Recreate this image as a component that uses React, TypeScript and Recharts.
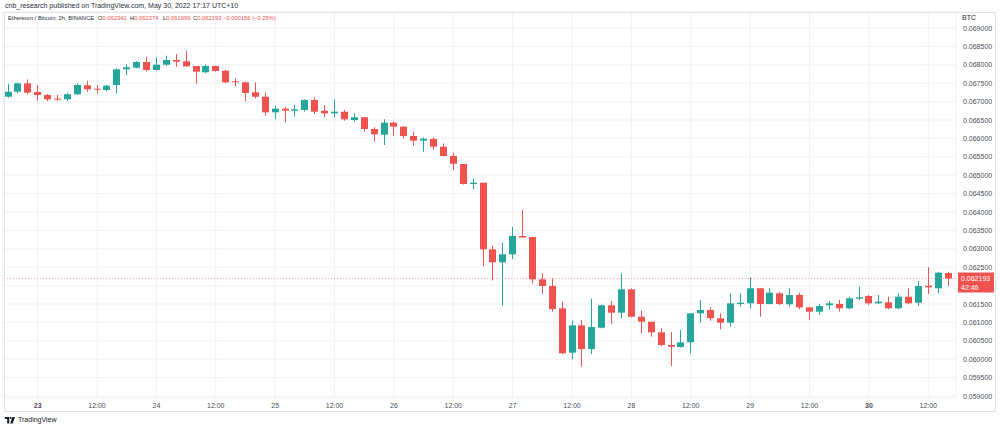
import { ComposedChart, Bar, XAxis, YAxis, CartesianGrid, ReferenceLine } from 'recharts'

// ETH/BTC 2h candles, 22 May 18:00 -> 30 May 16:00
const firstDay = 22
const firstHour = 18

const opens = [
    0.067133, 0.067269, 0.067497, 0.067261, 0.067179, 0.067079, 0.067063, 0.067199, 0.067443, 0.067351, 0.067315, 0.067451,
    0.067878, 0.067921, 0.068076, 0.067859, 0.068003, 0.068131, 0.068095, 0.067968, 0.067796, 0.067968, 0.06784, 0.067552,
    0.067525, 0.067253, 0.067133, 0.066709, 0.066807, 0.066753, 0.066772, 0.067044, 0.066753, 0.066682, 0.066726, 0.0665,
    0.066574, 0.066256, 0.066101, 0.066427, 0.066318, 0.066065, 0.065938, 0.065984, 0.065775, 0.065522, 0.065304, 0.064761,
    0.064796, 0.062986, 0.062633, 0.06285, 0.063348, 0.063321, 0.062171, 0.061989, 0.061383, 0.060177, 0.060921, 0.060277,
    0.060856, 0.061465, 0.061264, 0.061899, 0.061155, 0.061019, 0.060731, 0.060386, 0.060332, 0.060459, 0.061247, 0.061337,
    0.061112, 0.060992, 0.0615, 0.061519, 0.061927, 0.0615, 0.061791, 0.061492, 0.061745, 0.06141, 0.061291, 0.061465,
    0.0615, 0.061383, 0.061644, 0.061717, 0.061519, 0.061546, 0.061383, 0.061698, 0.061535, 0.061997, 0.061927, 0.062342,
]
const highs = [
    0.067478, 0.067514, 0.067606, 0.067451, 0.067207, 0.067179, 0.067242, 0.067497, 0.067568, 0.067451, 0.067451, 0.067905,
    0.068014, 0.068103, 0.06822, 0.068204, 0.068247, 0.068294, 0.068375, 0.067968, 0.068014, 0.067981, 0.067859, 0.067633,
    0.067541, 0.067525, 0.067253, 0.066881, 0.066862, 0.066908, 0.067063, 0.067117, 0.066908, 0.067063, 0.066772, 0.066682,
    0.066574, 0.066302, 0.066519, 0.066454, 0.066337, 0.066182, 0.06603, 0.06603, 0.065867, 0.065611, 0.065304, 0.064905,
    0.064796, 0.06309, 0.063166, 0.063593, 0.064054, 0.063321, 0.062334, 0.062193, 0.061568, 0.061046, 0.061065, 0.061644,
    0.061487, 0.061582, 0.062334, 0.061927, 0.061318, 0.061019, 0.06084, 0.060739, 0.060794, 0.061247, 0.061609, 0.06141,
    0.061247, 0.061791, 0.061791, 0.062226, 0.061935, 0.061927, 0.061834, 0.061927, 0.061807, 0.061418, 0.0615, 0.061582,
    0.061609, 0.061698, 0.06197, 0.061745, 0.061745, 0.061698, 0.061791, 0.061927, 0.062125, 0.062497, 0.062378, 0.062374,
]
const lows = [
    0.067106, 0.067226, 0.067198, 0.067025, 0.067016, 0.067025, 0.067016, 0.067179, 0.067269, 0.067226, 0.06728, 0.067226,
    0.067723, 0.067905, 0.067813, 0.06784, 0.067968, 0.067948, 0.067948, 0.067497, 0.067769, 0.067813, 0.067497, 0.067424,
    0.067016, 0.06709, 0.066617, 0.066527, 0.066438, 0.06659, 0.066726, 0.066663, 0.066574, 0.066574, 0.066481, 0.066454,
    0.066182, 0.06591, 0.065821, 0.066065, 0.066003, 0.065802, 0.065639, 0.065685, 0.065508, 0.065141, 0.064747, 0.064625,
    0.062519, 0.062139, 0.061454, 0.062723, 0.063307, 0.062063, 0.061772, 0.061291, 0.060141, 0.059997, 0.059796, 0.060141,
    0.060834, 0.060957, 0.061112, 0.061139, 0.060704, 0.060611, 0.060359, 0.059815, 0.060313, 0.06016, 0.060992, 0.061046,
    0.060813, 0.060883, 0.061427, 0.061383, 0.061155, 0.061487, 0.061473, 0.061427, 0.061356, 0.061065, 0.061201, 0.061337,
    0.061291, 0.061356, 0.061609, 0.061473, 0.0615, 0.061356, 0.061356, 0.061492, 0.061446, 0.061772, 0.061791, 0.061999,
]
const closes = [
    0.067269, 0.067497, 0.067242, 0.067179, 0.067063, 0.067057, 0.067199, 0.067451, 0.067334, 0.067324, 0.067432, 0.067878,
    0.067932, 0.068076, 0.067859, 0.068003, 0.068131, 0.068084, 0.067959, 0.067813, 0.067968, 0.067832, 0.067525, 0.067533,
    0.067234, 0.067133, 0.066709, 0.066807, 0.066753, 0.066791, 0.067044, 0.066726, 0.066682, 0.066726, 0.066519, 0.066574,
    0.066256, 0.066111, 0.066427, 0.066318, 0.066065, 0.065938, 0.065992, 0.065775, 0.065522, 0.065313, 0.064761, 0.064796,
    0.062986, 0.062633, 0.06285, 0.063348, 0.063307, 0.062171, 0.061989, 0.061364, 0.06016, 0.060921, 0.060277, 0.060875,
    0.061465, 0.061264, 0.061899, 0.061155, 0.061019, 0.060731, 0.060386, 0.06034, 0.060459, 0.061247, 0.061337, 0.061112,
    0.060992, 0.061519, 0.061535, 0.061927, 0.0615, 0.061807, 0.0615, 0.061745, 0.06141, 0.061291, 0.061446, 0.061519,
    0.061383, 0.061655, 0.061682, 0.061519, 0.061563, 0.061383, 0.061698, 0.061519, 0.061989, 0.061954, 0.062351, 0.062193,
]

const timeTicks = [
    '23 00:00', '23 12:00', '24 00:00', '24 12:00', '25 00:00', '25 12:00', '26 00:00', '26 12:00',
    '27 00:00', '27 12:00', '28 00:00', '28 12:00', '29 00:00', '29 12:00', '30 00:00', '30 12:00',
]
const boldDays = ['23', '30']
const priceTicks = [
    0.059, 0.0595, 0.06, 0.0605, 0.061, 0.0615, 0.062, 0.0625, 0.063, 0.0635, 0.064,
    0.0645, 0.065, 0.0655, 0.066, 0.0665, 0.067, 0.0675, 0.068, 0.0685, 0.069,
]
const lastPrice = 0.062193
const countdown = '42:46'
const ohlcLegend = [
    { k: 'O', v: '0.062342', left: 98 },
    { k: 'H', v: '0.062374', left: 130 },
    { k: 'L', v: '0.061999', left: 163 },
    { k: 'C', v: '0.062193', left: 193 },
]
const changeText = '−0.000156 (−0.25%)'

const UP = '#26a69a'
const DOWN = '#ef5350'
const FONT = '"Liberation Sans", Arial, sans-serif'

const data = opens.map((open, i) => {
    const h = firstHour + i * 2
    const day = firstDay + Math.floor(h / 24)
    const hour = String(h % 24).padStart(2, '0')
    return {
        time: `${day} ${hour}:00`,
        open,
        high: highs[i],
        low: lows[i],
        close: closes[i],
        range: [lows[i], highs[i]],
    }
})

function Candle(props: any) {
    const { x, y, width, height, payload } = props
    const { open, high, low, close } = payload
    const top = Math.min(y, y + height)
    const h = Math.abs(height)
    const k = h / (high - low)
    const color = close >= open ? UP : DOWN
    const bodyTop = top + (high - Math.max(open, close)) * k
    const bodyH = Math.max(1, Math.abs(close - open) * k)
    const cx = Math.round(x + width / 2) + 0.5
    return (
        <g>
            <line x1={cx} x2={cx} y1={top} y2={top + h} stroke={color} strokeWidth={1} />
            <rect x={cx - 3.5} y={bodyTop} width={7} height={bodyH} fill={color} />
        </g>
    )
}

function TimeTick({ x, y, payload }: any) {
    const [day, hm] = String(payload.value).split(' ')
    const label = hm === '00:00' ? day : hm
    return (
        <text x={x} y={y + 1.5} textAnchor="middle" fontSize={7} fill="#4a4d57"
            fontWeight={hm === '00:00' && boldDays.includes(day) ? 700 : 400}>
            {label}
        </text>
    )
}

function PriceTick({ x, y, payload }: any) {
    if (Math.abs(payload.value - 0.062) < 1e-9) return null
    return (
        <text x={x - 1} y={y + 2.5} textAnchor="start" fontSize={7} fill="#4a4d57">
            {Number(payload.value).toFixed(6)}
        </text>
    )
}

function PriceLabel({ viewBox }: any) {
    const lx = viewBox.x + viewBox.width + 2
    const ly = viewBox.y
    return (
        <g>
            <rect x={lx} y={ly - 6} width={36} height={20} fill={DOWN} />
            <text x={lx + 3} y={ly + 2.5} fontSize={7} fill="#fff">{lastPrice.toFixed(6)}</text>
            <text x={lx + 3} y={ly + 11} fontSize={7} fill="#fff">{countdown}</text>
        </g>
    )
}

function App() {
    const legendText = { position: 'absolute' as const, top: 14, fontSize: 5.8, lineHeight: '8px', whiteSpace: 'nowrap' as const }
    return (
        <div style={{ position: 'absolute', left: 0, top: 0, width: 1000, height: 428, background: '#fff', fontFamily: FONT, overflow: 'hidden' }}>
            <ComposedChart width={1000} height={428} data={data} margin={{ top: 12, right: 5, bottom: 17, left: 3 }}>
                <CartesianGrid stroke="#eff1f5" />
                <XAxis dataKey="time" ticks={timeTicks} interval={0} tick={<TimeTick />} axisLine={false} tickLine={false}
                    height={13} padding={{ left: 0, right: 3 }} />
                <YAxis orientation="right" type="number" domain={[0.058946, 0.069435]} allowDataOverflow ticks={priceTicks}
                    interval={0} tick={<PriceTick />} axisLine={false} tickLine={false} width={39} />
                <ReferenceLine y={lastPrice} stroke={DOWN} strokeOpacity={0.55} strokeDasharray="1 2" label={<PriceLabel />} />
                <Bar dataKey="range" barSize={7} shape={(p: any) => <Candle {...p} />} isAnimationActive={false} />
            </ComposedChart>

            <div style={{ position: 'absolute', left: 4, top: 12, width: 990, height: 398, border: '1px solid #e0e3eb', pointerEvents: 'none' }} />

            <div style={{ position: 'absolute', left: 5, top: 2, fontSize: 7, lineHeight: '8px', color: '#2a2e39', whiteSpace: 'nowrap' }}>
                cnb_research published on TradingView.com, May 30, 2022 17:17 UTC+10
            </div>
            <div style={{ ...legendText, left: 8, color: '#2a2e39' }}>Ethereum / Bitcoin, 2h, BINANCE</div>
            {ohlcLegend.map((o) => (
                <div key={o.k} style={{ ...legendText, left: o.left, color: '#2a2e39' }}>
                    {o.k}<span style={{ color: DOWN }}>{o.v}</span>
                </div>
            ))}
            <div style={{ ...legendText, left: 223, color: DOWN }}>{changeText}</div>
            <div style={{ position: 'absolute', left: 962, top: 14, fontSize: 7, lineHeight: '8px', color: '#2a2e39' }}>BTC</div>

            <div style={{ position: 'absolute', left: 5, top: 416, display: 'flex', alignItems: 'center', gap: 3, fontSize: 7, lineHeight: '8px', color: '#131722' }}>
                <svg width={10} height={7} viewBox="0 0 10 7">
                    <path d="M0 0h4.2v6.5H2.2V2H0z" fill="#131722" />
                    <circle cx={5.6} cy={1} r={1} fill="#131722" />
                    <path d="M7.4 0H10L7.6 6.5H5.2z" fill="#131722" />
                </svg>
                <span>TradingView</span>
            </div>
        </div>
    )
}

export default App
